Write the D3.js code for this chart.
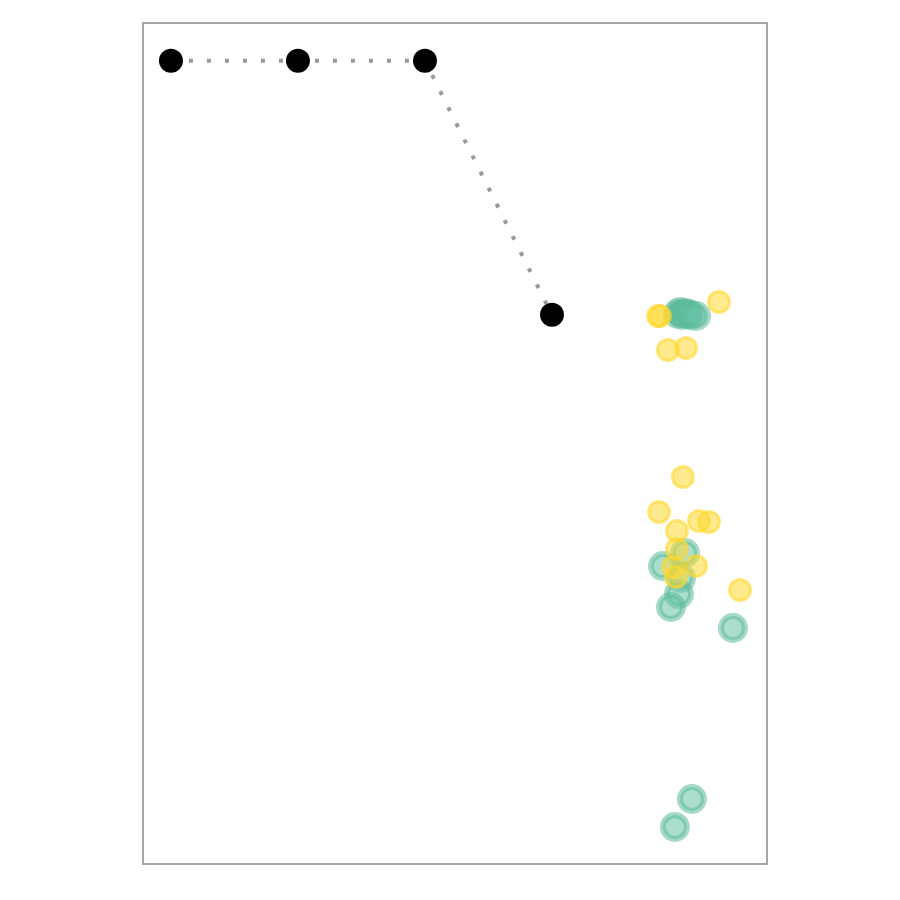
<!DOCTYPE html>
<html>
<head>
<meta charset="utf-8">
<script src="https://cdn.jsdelivr.net/npm/d3@7"></script>
<style>
html,body{margin:0;padding:0;background:#fff;}
svg{display:block;}
</style>
</head>
<body>
<svg id="chart" width="900" height="900"></svg>
<script>
// Path (black points joined by dotted line)
const pathX = [0, 1, 2, 3];
const pathY = [0.955, 0.955, 0.955, 0.653];

// Teal group
const tealX = [3.992, 4.008, 4.031, 4.047, 4.071, 4.094, 4.134, 4.047, 3.874, 4.016, 4.000, 3.937, 4.425, 4.102, 3.968];
const tealY = [0.6540, 0.6564, 0.6528, 0.6552, 0.6540, 0.6528, 0.6516, 0.3698, 0.3543, 0.3401, 0.3210, 0.3056, 0.2806, 0.0773, 0.0440];

// Yellow group
const yellowX = [3.835, 3.850, 4.315, 3.913, 4.055, 4.031, 3.843, 4.157, 4.236, 3.984, 3.984, 4.134, 3.953, 3.976, 4.480];
const yellowY = [0.6516, 0.6516, 0.6683, 0.6112, 0.6136, 0.4602, 0.4186, 0.4078, 0.4067, 0.3960, 0.3746, 0.3543, 0.3531, 0.3413, 0.3258];

const xDomain = [-0.22, 4.693];
const yDomain = [0, 1];

(function () {
const svg = d3.select("#chart");
const pL = 143, pR = 767, pT = 23, pB = 864;

const x = d3.scaleLinear().domain(xDomain).range([pL, pR]);
const y = d3.scaleLinear().domain(yDomain).range([pB, pT]);

svg.append("rect")
  .attr("x", pL).attr("y", pT)
  .attr("width", pR - pL).attr("height", pB - pT)
  .attr("fill", "none").attr("stroke", "#a6a6a6").attr("stroke-width", 2);

const pathData = pathX.map((d, i) => [d, pathY[i]]);
svg.append("path")
  .attr("d", d3.line().x(d => x(d[0])).y(d => y(d[1]))(pathData))
  .attr("fill", "none")
  .attr("stroke", "#999999")
  .attr("stroke-width", 4)
  .attr("stroke-dasharray", "4,14");

const teal = tealX.map((d, i) => [d, tealY[i]]);
svg.append("g").selectAll("circle").data(teal).join("circle")
  .attr("cx", d => x(d[0])).attr("cy", d => y(d[1])).attr("r", 12)
  .attr("fill", "#66c2a5").attr("fill-opacity", 0.55)
  .attr("stroke", "#5db99a").attr("stroke-opacity", 0.55).attr("stroke-width", 6);

const yellow = yellowX.map((d, i) => [d, yellowY[i]]);
svg.append("g").selectAll("circle").data(yellow).join("circle")
  .attr("cx", d => x(d[0])).attr("cy", d => y(d[1])).attr("r", 10.5)
  .attr("fill", "#ffd92f").attr("fill-opacity", 0.55)
  .attr("stroke", "#ffd92f").attr("stroke-opacity", 0.6).attr("stroke-width", 3);

svg.append("g").selectAll("circle").data(pathData).join("circle")
  .attr("cx", d => x(d[0])).attr("cy", d => y(d[1])).attr("r", 12)
  .attr("fill", "#000");
})();
</script>
</body>
</html>
